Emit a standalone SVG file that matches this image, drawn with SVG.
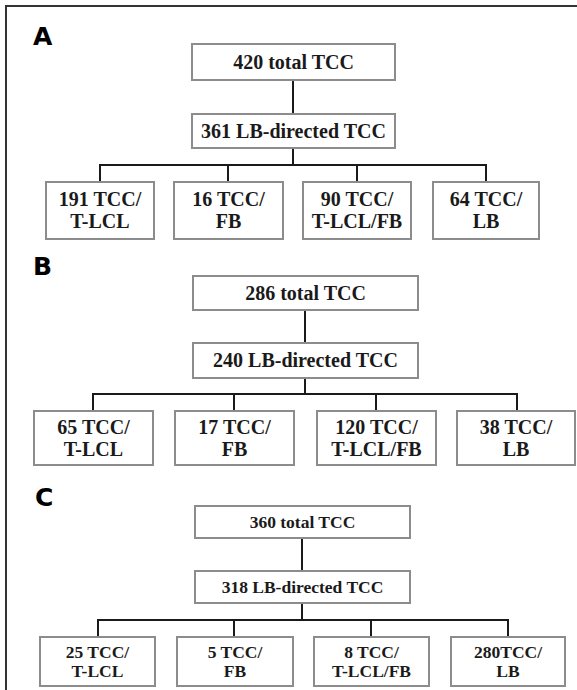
<svg xmlns="http://www.w3.org/2000/svg" width="577" height="690" viewBox="0 0 577 690">
<style>
.box{fill:#fff;stroke:#8c8c8c;stroke-width:2}
.con{fill:none;stroke:#1a1a1a;stroke-width:2}
.lbl{font-family:"DejaVu Sans","Liberation Sans",sans-serif;font-weight:900;font-size:25px;fill:#000}
.frame{fill:none;stroke:#333;stroke-width:2}
</style>
<rect width="577" height="690" fill="#fff"/>
<path class="frame" d="M6,690 V6 H577"/>
<text class="lbl" x="33" y="45">A</text>
<text class="lbl" x="33" y="275">B</text>
<text class="lbl" x="35" y="506">C</text>
<g id="connectors">
<path class="con" d="M293,80 V114 M293,148 V165 M100,182 V165 H486 V182 M228,165 V182 M357,165 V182"/>
<path class="con" d="M305,310 V343 M305,378 V394 M93,411 V394 H517 V411 M234,394 V411 M376,394 V411"/>
<path class="con" d="M302,538 V571 M302,603 V620 M98,637 V620 H508 V637 M234,620 V637 M371,620 V637"/>
</g>
<g font-family="'Liberation Serif', 'DejaVu Serif', serif" font-weight="bold" fill="#1a1a1a" text-anchor="middle" font-size="20">
<g id="a-total"><rect class="box" x="192" y="44" width="203" height="36"/><text x="293.5" y="68.5">420 total TCC</text></g>
<g id="a-lb"><rect class="box" x="192" y="114" width="203" height="34"/><text x="293.5" y="137.5">361 LB-directed TCC</text></g>
<g id="a-tlcl"><rect class="box" x="46" y="182" width="108" height="57"/><text x="100" y="206">191 TCC/<tspan x="100" y="228">T-LCL</tspan></text></g>
<g id="a-fb"><rect class="box" x="174" y="182" width="109" height="57"/><text x="228.5" y="206">16 TCC/<tspan x="228.5" y="228">FB</tspan></text></g>
<g id="a-tlclfb"><rect class="box" x="303" y="182" width="108" height="57"/><text x="357" y="206">90 TCC/<tspan x="357" y="228">T-LCL/FB</tspan></text></g>
<g id="a-lb2"><rect class="box" x="433" y="182" width="106" height="57"/><text x="486" y="206">64 TCC/<tspan x="486" y="228">LB</tspan></text></g>
<g id="b-total"><rect class="box" x="193" y="276" width="225" height="34"/><text x="305.5" y="299.5">286 total TCC</text></g>
<g id="b-lb"><rect class="box" x="193" y="343" width="225" height="35"/><text x="305.5" y="367">240 LB-directed TCC</text></g>
<g id="b-tlcl"><rect class="box" x="34" y="411" width="119" height="54"/><text x="93.5" y="433.5">65 TCC/<tspan x="93.5" y="455.5">T-LCL</tspan></text></g>
<g id="b-fb"><rect class="box" x="175" y="411" width="119" height="54"/><text x="234.5" y="433.5">17 TCC/<tspan x="234.5" y="455.5">FB</tspan></text></g>
<g id="b-tlclfb"><rect class="box" x="317" y="411" width="119" height="54"/><text x="376.5" y="433.5">120 TCC/<tspan x="376.5" y="455.5">T-LCL/FB</tspan></text></g>
<g id="b-lb2"><rect class="box" x="457" y="411" width="118" height="54"/><text x="516" y="433.5">38 TCC/<tspan x="516" y="455.5">LB</tspan></text></g>
<g font-size="17.5">
<g id="c-total"><rect class="box" x="195" y="506" width="215" height="32"/><text x="302.5" y="528">360 total TCC</text></g>
<g id="c-lb"><rect class="box" x="195" y="571" width="215" height="32"/><text x="302.5" y="593">318 LB-directed TCC</text></g>
<g id="c-tlcl"><rect class="box" x="40" y="637" width="115" height="49"/><text x="97.5" y="658">25 TCC/<tspan x="97.5" y="677">T-LCL</tspan></text></g>
<g id="c-fb"><rect class="box" x="177" y="637" width="116" height="49"/><text x="235" y="658">5 TCC/<tspan x="235" y="677">FB</tspan></text></g>
<g id="c-tlclfb"><rect class="box" x="314" y="637" width="115" height="49"/><text x="371.5" y="658">8 TCC/<tspan x="371.5" y="677">T-LCL/FB</tspan></text></g>
<g id="c-lb2"><rect class="box" x="451" y="637" width="114" height="49"/><text x="508" y="658">280TCC/<tspan x="508" y="677">LB</tspan></text></g>
</g>
</g>
</svg>
